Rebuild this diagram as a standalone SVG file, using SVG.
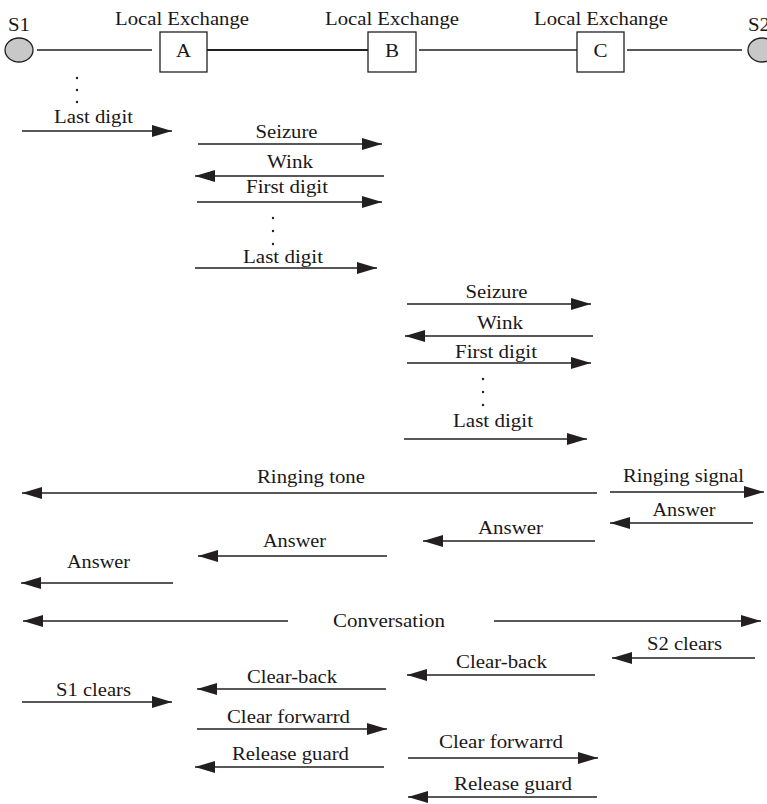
<svg xmlns="http://www.w3.org/2000/svg" width="767" height="804" viewBox="0 0 767 804">
  <style>
    text { font-family: "Liberation Serif", "Times New Roman", serif; font-size: 18px; fill: #1a1718; text-anchor: middle; }
    .ln { stroke: #231f20; stroke-width: 1.3; fill: none; }
    .trunk { stroke: #231f20; stroke-width: 2; fill: none; }
    .sig { stroke: #231f20; stroke-width: 1.3; fill: none; marker-end: url(#head); }
    .box { fill: #ffffff; stroke: #231f20; stroke-width: 1.3; }
    .sub { fill: #c8c8c8; stroke: #231f20; stroke-width: 1.3; }
    .dot { fill: #231f20; }
  </style>
  <defs>
    <marker id="head" markerUnits="userSpaceOnUse" markerWidth="20" markerHeight="12" refX="20" refY="6" orient="auto">
      <path d="M0,0 L20,6 L0,12 Z" fill="#231f20"/>
    </marker>
  </defs>
  <rect width="767" height="804" fill="#ffffff"/>

  <!-- subscribers and exchanges -->
  <g id="s1">
    <ellipse class="sub" cx="19" cy="50" rx="14" ry="12"/>
    <text x="19" y="31" textLength="22" lengthAdjust="spacingAndGlyphs">S1</text>
  </g>
  <g id="exA">
    <text x="182" y="25" textLength="134" lengthAdjust="spacingAndGlyphs">Local Exchange</text>
    <rect class="box" x="160" y="32" width="47" height="40"/>
    <text x="183.5" y="57" textLength="15" lengthAdjust="spacingAndGlyphs">A</text>
  </g>
  <g id="exB">
    <text x="392" y="25" textLength="134" lengthAdjust="spacingAndGlyphs">Local Exchange</text>
    <rect class="box" x="368" y="32" width="48" height="40"/>
    <text x="392" y="57" textLength="14" lengthAdjust="spacingAndGlyphs">B</text>
  </g>
  <g id="exC">
    <text x="601" y="25" textLength="134" lengthAdjust="spacingAndGlyphs">Local Exchange</text>
    <rect class="box" x="577" y="32" width="47" height="40"/>
    <text x="600.5" y="57" textLength="14" lengthAdjust="spacingAndGlyphs">C</text>
  </g>
  <g id="s2">
    <ellipse class="sub" cx="762" cy="50" rx="14" ry="12"/>
    <text x="759" y="31" textLength="22" lengthAdjust="spacingAndGlyphs">S2</text>
  </g>

  <!-- links between stations -->
  <g id="links">
    <line class="ln" x1="37" y1="50" x2="152" y2="50"/>
    <line class="trunk" x1="207" y1="50" x2="368" y2="50"/>
    <line class="ln" x1="419" y1="50" x2="577" y2="50"/>
    <line class="ln" x1="627" y1="50" x2="742" y2="50"/>
  </g>

  <!-- signalling messages -->
  <g id="connectors">
    <line class="sig" x1="22" y1="131" x2="172" y2="131"/>
    <line class="sig" x1="198" y1="144" x2="382" y2="144"/>
    <line class="sig" x1="384" y1="176" x2="195" y2="176"/>
    <line class="sig" x1="197" y1="202" x2="382" y2="202"/>
    <line class="sig" x1="195" y1="268" x2="377" y2="268"/>
    <line class="sig" x1="407" y1="304" x2="591" y2="304"/>
    <line class="sig" x1="593" y1="336" x2="405" y2="336"/>
    <line class="sig" x1="407" y1="363" x2="591" y2="363"/>
    <line class="sig" x1="404" y1="439" x2="587" y2="439"/>

    <line class="sig" x1="597" y1="493" x2="22" y2="493"/>
    <line class="sig" x1="610" y1="492" x2="764" y2="492"/>
    <line class="sig" x1="753" y1="523" x2="610" y2="523"/>
    <line class="sig" x1="595" y1="541" x2="423" y2="541"/>
    <line class="sig" x1="387" y1="556" x2="198" y2="556"/>
    <line class="sig" x1="173" y1="583" x2="21" y2="583"/>

    <line class="sig" x1="288" y1="621" x2="23" y2="621"/>
    <line class="sig" x1="494" y1="621" x2="761" y2="621"/>

    <line class="sig" x1="755" y1="658" x2="612" y2="658"/>
    <line class="sig" x1="595" y1="675" x2="407" y2="675"/>
    <line class="sig" x1="386" y1="689" x2="197" y2="689"/>
    <line class="sig" x1="22" y1="702" x2="172" y2="702"/>
    <line class="sig" x1="197" y1="729" x2="387" y2="729"/>
    <line class="sig" x1="408" y1="758" x2="598" y2="758"/>
    <line class="sig" x1="384" y1="767" x2="195" y2="767"/>
    <line class="sig" x1="597" y1="797" x2="408" y2="797"/>
  </g>

  <!-- continuation dots -->
  <g id="ellipses">
    <circle class="dot" cx="77" cy="78" r="1.2"/>
    <circle class="dot" cx="77" cy="90" r="1.2"/>
    <circle class="dot" cx="77" cy="102" r="1.2"/>
    <circle class="dot" cx="273" cy="218" r="1.2"/>
    <circle class="dot" cx="273" cy="231" r="1.2"/>
    <circle class="dot" cx="273" cy="244" r="1.2"/>
    <circle class="dot" cx="483" cy="379" r="1.2"/>
    <circle class="dot" cx="483" cy="392" r="1.2"/>
    <circle class="dot" cx="483" cy="405" r="1.2"/>
  </g>

  <!-- message labels -->
  <g id="labels">
    <text x="93.5" y="123" textLength="79" lengthAdjust="spacingAndGlyphs">Last digit</text>
    <text x="286.5" y="138" textLength="62" lengthAdjust="spacingAndGlyphs">Seizure</text>
    <text x="290" y="168" textLength="46" lengthAdjust="spacingAndGlyphs">Wink</text>
    <text x="287" y="193" textLength="82" lengthAdjust="spacingAndGlyphs">First digit</text>
    <text x="283" y="263" textLength="80" lengthAdjust="spacingAndGlyphs">Last digit</text>
    <text x="496.5" y="298" textLength="62" lengthAdjust="spacingAndGlyphs">Seizure</text>
    <text x="500" y="329" textLength="46" lengthAdjust="spacingAndGlyphs">Wink</text>
    <text x="496" y="358" textLength="82" lengthAdjust="spacingAndGlyphs">First digit</text>
    <text x="493" y="427" textLength="80" lengthAdjust="spacingAndGlyphs">Last digit</text>

    <text x="311" y="483" textLength="108" lengthAdjust="spacingAndGlyphs">Ringing tone</text>
    <text x="683.5" y="482" textLength="121" lengthAdjust="spacingAndGlyphs">Ringing signal</text>
    <text x="684" y="516" textLength="63" lengthAdjust="spacingAndGlyphs">Answer</text>
    <text x="510.5" y="534" textLength="65" lengthAdjust="spacingAndGlyphs">Answer</text>
    <text x="294.5" y="547" textLength="63" lengthAdjust="spacingAndGlyphs">Answer</text>
    <text x="98.5" y="568" textLength="63" lengthAdjust="spacingAndGlyphs">Answer</text>

    <text x="389" y="627" textLength="112" lengthAdjust="spacingAndGlyphs">Conversation</text>

    <text x="684.5" y="650" textLength="75" lengthAdjust="spacingAndGlyphs">S2 clears</text>
    <text x="501.5" y="668" textLength="91" lengthAdjust="spacingAndGlyphs">Clear-back</text>
    <text x="292" y="683" textLength="90" lengthAdjust="spacingAndGlyphs">Clear-back</text>
    <text x="93.5" y="696" textLength="75" lengthAdjust="spacingAndGlyphs">S1 clears</text>
    <text x="288.5" y="723" textLength="123" lengthAdjust="spacingAndGlyphs">Clear forwarrd</text>
    <text x="501" y="748" textLength="124" lengthAdjust="spacingAndGlyphs">Clear forwarrd</text>
    <text x="290.5" y="760" textLength="117" lengthAdjust="spacingAndGlyphs">Release guard</text>
    <text x="513" y="790" textLength="118" lengthAdjust="spacingAndGlyphs">Release guard</text>
  </g>
</svg>
